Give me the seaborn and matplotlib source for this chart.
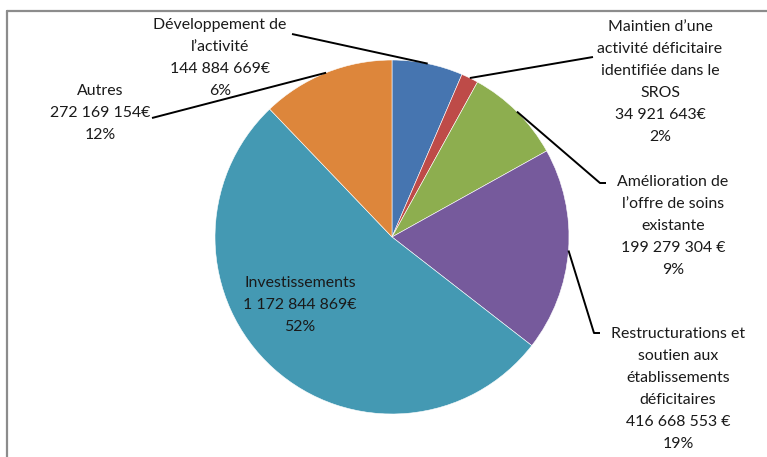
import matplotlib
matplotlib.use("Agg")
import matplotlib.pyplot as plt
import numpy as np
import seaborn as sns

# Répartition des crédits par objet
categories = [
    "Développement de\nl’activité",
    "Maintien d’une\nactivité déficitaire\nidentifiée dans le\nSROS",
    "Amélioration de\nl’offre de soins\nexistante",
    "Restructurations et\nsoutien aux\nétablissements\ndéficitaires",
    "Investissements",
    "Autres",
]
amounts = [144884669, 34921643, 199279304, 416668553, 1172844869, 272169154]
amount_labels = ["144 884 669€", "34 921 643€", "199 279 304 €",
                 "416 668 553 €", "1 172 844 869€", "272 169 154€"]
percent_labels = ["6%", "2%", "9%", "19%", "52%", "12%"]

colors = ["#4675B0", "#BE4B48", "#8DAE4F", "#765A9C", "#4499B3", "#DD863B"]

sns.set_theme(style="white")
plt.rcParams["font.family"] = ["Lato", "DejaVu Sans"]

W, H = 767, 457
fig = plt.figure(figsize=(W / 100, H / 100), dpi=100)
ax = fig.add_axes([0, 0, 1, 1])

cx, cy, r = 392, H - 237, 177
wedges, _ = ax.pie(amounts, colors=colors, startangle=90, counterclock=False,
                   center=(cx, cy), radius=r, frame=True,
                   wedgeprops=dict(edgecolor="white", linewidth=0.4))
ax.set_xlim(0, W)
ax.set_ylim(0, H)
ax.set_aspect("equal")
ax.axis("off")


def anchor(w, frac=1.0):
    mid = np.deg2rad((w.theta1 + w.theta2) / 2)
    return cx + frac * r * np.cos(mid), cy + frac * r * np.sin(mid)


text_kw = dict(ha="center", va="center", fontsize=11.4, color="#1a1a1a",
               linespacing=1.72)
line_kw = dict(color="black", lw=1.4, solid_capstyle="butt")

# label centre (x, y in pixels from top), leader path from the text (pixels)
layout = [
    ((220, 58), [(292, 34)]),
    ((660, 82), [(593, 57)]),
    ((673, 226), [(606, 183), (600, 183)]),
    ((678, 389), [(600, 333), (594, 333)]),
    (None, None),
    ((100, 113), [(152, 118)]),
]

for i, w in enumerate(wedges):
    label = f"{categories[i]}\n{amount_labels[i]}\n{percent_labels[i]}"
    pos, path = layout[i]
    if pos is None:
        ax.text(300, H - 305, label, **text_kw)
        continue
    ax.text(pos[0], H - pos[1], label, **text_kw)
    ax_, ay_ = anchor(w)
    xs = [p[0] for p in path] + [ax_]
    ys = [H - p[1] for p in path] + [ay_]
    ax.plot(xs, ys, **line_kw)

# chart frame (top and left edges)
ax.plot([7, W], [H - 11, H - 11], color="#8c8c8c", lw=1.6)
ax.plot([7, 7], [H - 11, 0], color="#8c8c8c", lw=1.6)

fig.savefig("out.png", dpi=100, facecolor="white")
